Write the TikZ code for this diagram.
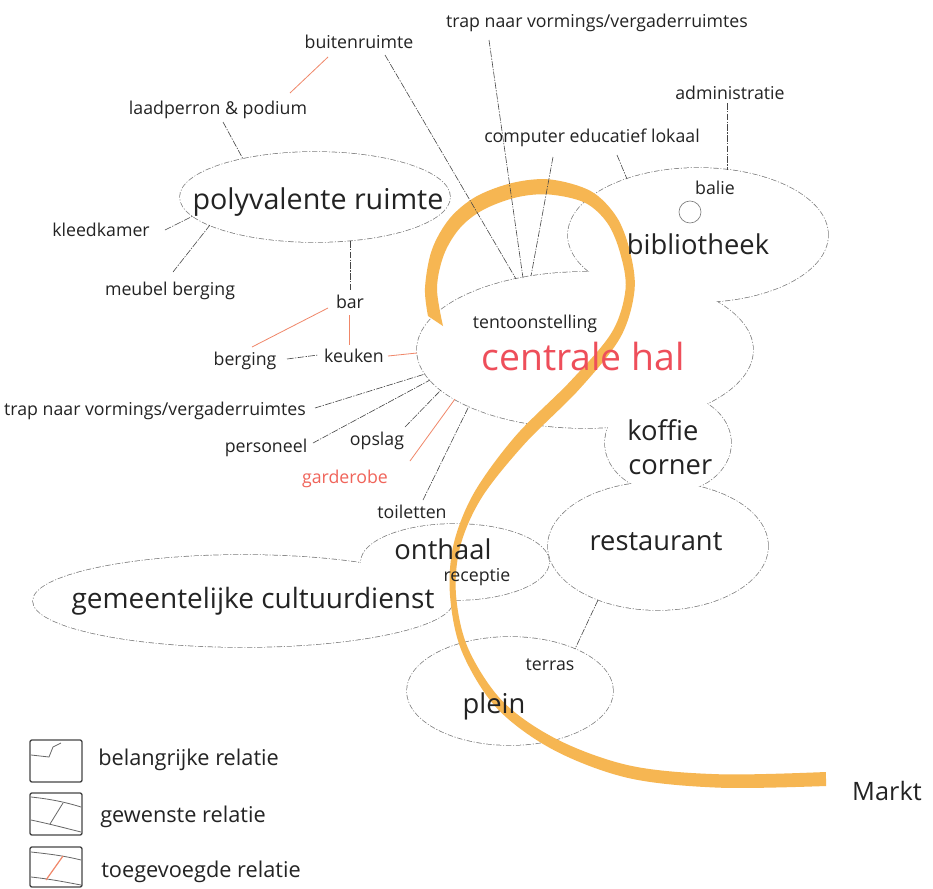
\documentclass[tikz,border=0pt]{standalone}
\usepackage{fontspec}
\setmainfont{Open Sans}
\usetikzlibrary{shapes.geometric}
\definecolor{ribbon}{RGB}{246,182,82}
\definecolor{outl}{RGB}{125,125,125}
\definecolor{conn}{RGB}{70,70,70}
\definecolor{redc}{RGB}{240,135,105}
\definecolor{halred}{RGB}{238,78,90}
\definecolor{garred}{RGB}{240,100,90}
\definecolor{txt}{RGB}{35,35,35}
\begin{document}
\begin{tikzpicture}[x=0.75pt,y=-0.75pt,
 blob/.style 2 args={ellipse,inner sep=0pt,outer sep=0pt,minimum width=#1*1.5pt,minimum height=#2*1.5pt},
 outline/.style={draw=outl,line width=1.1pt,dash pattern=on 4pt off 1.3pt on 0.8pt off 1.3pt},
 conline/.style={draw=conn,line width=0.45pt,dash pattern=on 5pt off 1pt on 1pt off 1pt},
 redline/.style={draw=redc,line width=0.6pt},
 lab/.style={font=\fontsize{13.3}{16}\selectfont,text=txt,inner sep=0pt,anchor=base},
 biglab/.style={font=\fontsize{20.5}{24}\selectfont,text=txt,inner sep=0pt,anchor=base},
 leglab/.style={font=\fontsize{16.3}{19}\selectfont,text=txt,inner sep=0pt,anchor=base west},
 legbox/.style={draw=conn,line width=1pt,rounded corners=1.5pt,minimum width=52*0.75pt,inner sep=0pt},
 legline/.style={draw=gray!80!black,line width=0.6pt}
]
\useasboundingbox (0,0) rectangle (933,889);
\fill[white] (0,0) rectangle (933,889);

% blobs (union outline: stroke, then white fill)
\node[blob={135}{45},outline] (poly) at (315,197) {};
\node[blob={130}{67},outline] (bib) at (698,235) {};
\node[blob={168}{78},outline] (hal) at (585,350) {};
\node[blob={63}{50},outline] (kof) at (668,443) {};
\node[blob={110}{64},outline] (rest) at (658,546) {};
\node[blob={94}{38},outline] (ont) at (455,562) {};
\node[blob={210}{46},outline] (gem) at (243,601) {};
\node[blob={103}{54},outline] (plein) at (510,691) {};
\foreach \n/\a/\b in {poly/135/45,bib/130/67,hal/168/78,kof/63/50,rest/110/64,ont/94/38,gem/210/46,plein/103/54}
  \fill[white] (\n.center) ellipse [x radius=\a, y radius=\b];
\node[circle,draw=outl,line width=0.5pt,minimum size=22*0.75pt,inner sep=0pt] (baliec) at (690,212) {};

% ribbon
\fill[ribbon] plot[smooth,tension=0.55] coordinates {(443,326) (437,288.2) (444.1,254.2) (460.3,227.6) (483.6,209.6) (516.7,197.3) (549.3,194.5) (584.9,202.7) (607.4,223.1) (620.2,253.2) (625.5,289.5) (611.7,332.5) (570.6,381.0) (515.5,436.0) (474.1,492.7) (453.6,544.2) (450.0,595.2) (461.8,651.4) (496.8,708.1) (553.5,749.9) (628.7,778.1) (719.8,787.7) (826.1,786)}
 -- plot[smooth,tension=0.55] coordinates {(825.9,772) (720.2,774.3) (631.3,765.9) (558.5,740.1) (503.2,701.9) (468.2,648.6) (456.0,594.8) (460.4,545.8) (481.9,497.3) (524.5,444.0) (579.4,389.1) (620.3,337.5) (634.5,290.5) (629.8,250.8) (616.6,216.9) (591.1,191.3) (550.7,179.5) (513.3,182.7) (476.4,196.4) (449.7,218.4) (431.9,249.8) (425,287.8) (428,316)} -- cycle;

% connector end points
\coordinate (c1a) at (328,57);  \coordinate (c1b) at (290,93);
\coordinate (c2a) at (223,122); \coordinate (c2b) at (243,159);
\coordinate (c3a) at (385,55);  \coordinate (c3b) at (516,279);
\coordinate (c4a) at (489,40);  \coordinate (c4b) at (523,278);
\coordinate (c5a) at (553,157); \coordinate (c5b) at (531,276);
\coordinate (c6a) at (617,155); \coordinate (c6b) at (627,179);
\coordinate (c7a) at (727,103); \coordinate (c7b) at (727,170);
\coordinate (c8a) at (165,230); \coordinate (c8b) at (193,216);
\coordinate (c9a) at (173,272); \coordinate (c9b) at (210,225);
\coordinate (c10a) at (350,241); \coordinate (c10b) at (350,290);
\coordinate (c11a) at (328,308); \coordinate (c11b) at (252,347);
\coordinate (c12a) at (349,315); \coordinate (c12b) at (349,345);
\coordinate (c13a) at (287,359); \coordinate (c13b) at (318,355);
\coordinate (c14a) at (388,356); \coordinate (c14b) at (417,353);
\coordinate (c15a) at (315,408); \coordinate (c15b) at (425,374);
\coordinate (c16a) at (313,443); \coordinate (c16b) at (430,380);
\coordinate (c17a) at (405,427); \coordinate (c17b) at (441,390);
\coordinate (c18a) at (410,461); \coordinate (c18b) at (455,399);
\coordinate (c19a) at (423,500); \coordinate (c19b) at (469,406);
\coordinate (c20a) at (598,600); \coordinate (c20b) at (575,649);

\draw[redline] (c1a) -- (c1b);
\draw[conline] (c2a) -- (c2b);
\draw[conline] (c3a) -- (c3b);
\draw[conline] (c4a) -- (c4b);
\draw[conline] (c5a) -- (c5b);
\draw[conline] (c6a) -- (c6b);
\draw[conline] (c7a) -- (c7b);
\draw[conline] (c8a) -- (c8b);
\draw[conline] (c9a) -- (c9b);
\draw[conline] (c10a) -- (c10b);
\draw[redline] (c11a) -- (c11b);
\draw[redline] (c12a) -- (c12b);
\draw[conline] (c13a) -- (c13b);
\draw[redline] (c14a) -- (c14b);
\draw[conline] (c15a) -- (c15b);
\draw[conline] (c16a) -- (c16b);
\draw[conline] (c17a) -- (c17b);
\draw[redline] (c18a) -- (c18b);
\draw[conline] (c19a) -- (c19b);
\draw[conline] (c20a) -- (c20b);

% labels
\node[lab] (ttrap) at (597,27) {trap naar vormings/vergaderruimtes};
\node[lab] (tbuiten) at (359,48) {buitenruimte};
\node[lab] (tlaad) at (218,114) {laadperron \& podium};
\node[lab] (tadmin) at (730,99) {administratie};
\node[lab] (tcomp) at (592,142) {computer educatief lokaal};
\node[biglab,font=\fontsize{21.5}{25}\selectfont] (tpoly) at (318,209) {polyvalente ruimte};
\node[lab] (tbalie) at (715,194) {balie};
\node[biglab] (tbib) at (698,254) {bibliotheek};
\node[lab] (tkleed) at (101,236) {kleedkamer};
\node[lab] (tmeubel) at (170,295) {meubel berging};
\node[lab] (tbar) at (350,308) {bar};
\node[lab] (ttent) at (535,328) {tentoonstelling};
\node[lab] (tberg) at (245,365) {berging};
\node[lab] (tkeuk) at (354,362) {keuken};
\node[biglab,font=\fontsize{28}{32}\selectfont,text=halred] (thal) at (583,370) {centrale hal};
\node[lab] (ttrap2) at (155,415) {trap naar vormings/vergaderruimtes};
\node[lab] (tpers) at (266,452) {personeel};
\node[lab] (topsl) at (377,445) {opslag};
\node[lab,text=garred] (tgard) at (345,483) {garderobe};
\node[lab] (ttoil) at (412,518) {toiletten};
\node[biglab,anchor=base west] (tkof1) at (627,440) {koffie};
\node[biglab,anchor=base west] (tkof2) at (628,474) {corner};
\node[biglab] (trest) at (656,550) {restaurant};
\node[biglab] (tont) at (443,559) {onthaal};
\node[lab] (trec) at (477,581) {receptie};
\node[biglab,font=\fontsize{21}{25}\selectfont] (tgem) at (253,608) {gemeentelijke cultuurdienst};
\node[lab] (tterr) at (550,670) {terras};
\node[biglab] (tplein) at (494,713) {plein};
\node[biglab,font=\fontsize{19}{22}\selectfont] (tmarkt) at (887,800) {Markt};

% legend
\node[legbox,minimum height=42*0.75pt] (leg1) at (56,761) {};
\node[legbox,minimum height=42*0.75pt] (leg2) at (56,814) {};
\node[legbox,minimum height=40*0.75pt] (leg3) at (56,867) {};
\draw[legline] (31,755) -- (49,757) -- (53,747) -- (61,743);
\draw[legline] (31,797) .. controls (50,799) and (65,802) .. (81,807);
\draw[legline] (31,820) .. controls (50,824) and (65,828) .. (81,832);
\draw[legline] (63,803) -- (50,824);
\draw[legline] (31,852) .. controls (50,854) and (65,856) .. (81,860);
\draw[legline] (31,877) .. controls (50,879) and (65,882) .. (81,885);
\draw[redline,line width=0.9pt] (63,856) -- (46,880);
\node[leglab] (lt1) at (98,765) {belangrijke relatie};
\node[leglab] (lt2) at (100,822) {gewenste relatie};
\node[leglab] (lt3) at (101,877) {toegevoegde relatie};
\end{tikzpicture}
\end{document}
